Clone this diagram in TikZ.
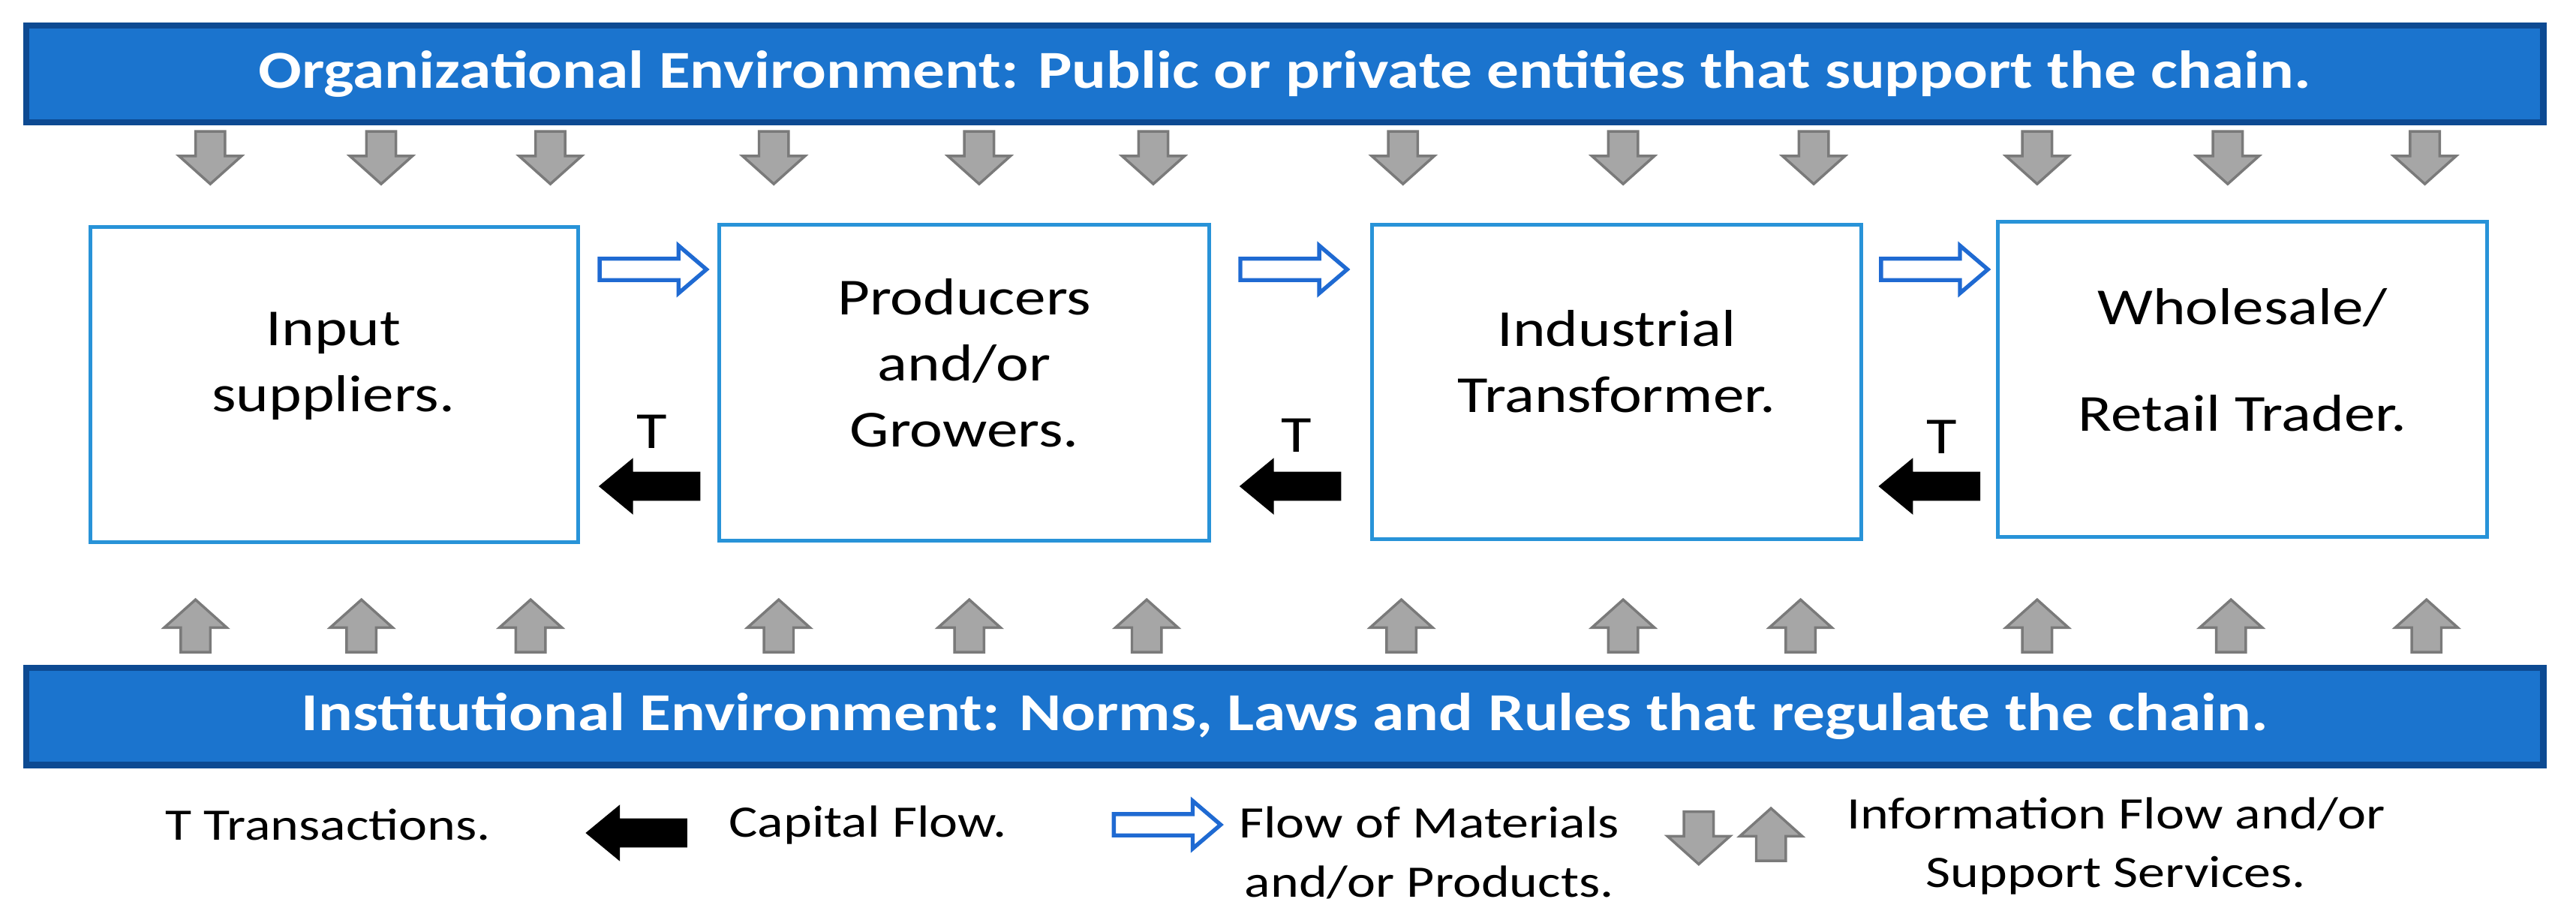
\documentclass[tikz,border=0pt]{standalone}
\usepackage{fontspec}
\setmainfont{Carlito}[FakeStretch=1.2]
\definecolor{bannerblue}{HTML}{1B74CE}
\definecolor{bannerline}{HTML}{0D4A92}
\definecolor{boxblue}{HTML}{2893D8}
\definecolor{flowblue}{HTML}{1F6AD2}
\definecolor{grayfill}{HTML}{A6A6A6}
\definecolor{grayline}{HTML}{7A7A7A}
\begin{document}
\begin{tikzpicture}[x=0.1mm,y=-0.1mm,
  bannerbox/.style={draw=bannerline, line width=0.4mm, fill=bannerblue, text=white,
    font=\fontsize{9.25}{11}\selectfont\bfseries, minimum width=153.2mm, minimum height=5.9mm, inner sep=0pt},
  chainbox/.style={draw=boxblue, line width=0.65pt, fill=white, inner sep=0pt},
  boxtext/.style={align=center, inner sep=0pt, font=\fontsize{9}{11.4}\selectfont},
  tlabel/.style={inner sep=0pt, font=\fontsize{9}{11}\selectfont},
  legtext/.style={inner sep=0pt, align=center, font=\fontsize{7.8}{10.2}\selectfont},
  grayarrow/.style={fill=grayfill, draw=grayline, line width=0.45pt, line join=miter},
  matarrow/.style={fill=white, draw=flowblue, line width=0.7pt, line join=miter},
  caparrow/.style={fill=black, draw=black, line width=0.2pt, line join=miter},
  pics/gdown/.style={code={\draw[grayarrow] (-9,0) -- (9,0) -- (9,15) -- (19,15) -- (0,32) -- (-19,15) -- (-9,15) -- cycle;}},
  pics/gup/.style={code={\draw[grayarrow] (-9,0) -- (9,0) -- (9,-15) -- (19,-15) -- (0,-32) -- (-19,-15) -- (-9,-15) -- cycle;}},
  pics/matflow/.style={code={\draw[matarrow] (0,-6.5) -- (48,-6.5) -- (48,-14.5) -- (65,0) -- (48,14.5) -- (48,6.5) -- (0,6.5) -- cycle;}},
  pics/capflow/.style={code={\draw[caparrow] (0,0) -- (20,-16.5) -- (20,-8.5) -- (61,-8.5) -- (61,8.5) -- (20,8.5) -- (20,16.5) -- cycle;}}
]
\useasboundingbox (0,0) rectangle (1568,558);

% banners
\node[bannerbox] (org) at (782,45) {Organizational Environment: Public or private entities that support the chain.};
\node[bannerbox] (inst) at (782,436) {Institutional Environment: Norms, Laws and Rules that regulate the chain.};

% chain boxes
\node[chainbox, minimum width=29.7mm, minimum height=19.2mm] (b1) at (203.5,234) {};
\node[chainbox, minimum width=29.8mm, minimum height=19.2mm] (b2) at (587,233) {};
\node[chainbox, minimum width=29.8mm, minimum height=19.1mm] (b3) at (984,232.5) {};
\node[chainbox, minimum width=29.8mm, minimum height=19.2mm] (b4) at (1365,231) {};

\node[boxtext] (t1) at (203,223) {Input\\suppliers.};
\node[boxtext] (t2) at (587,221) {Producers\\and/or\\Growers.};
\node[boxtext] (t3) at (984,220) {Industrial\\Transformer.};
\node[boxtext, font=\fontsize{9}{18.5}\selectfont] (t4) at (1365,219) {Wholesale/\\Retail Trader.};

% material flow arrows
\pic at (365,164) {matflow};
\pic at (755,164) {matflow};
\pic at (1145,164) {matflow};

% capital flow arrows with transactions
\pic at (365,296) {capflow};
\pic at (755,296) {capflow};
\pic at (1144,296) {capflow};
\node[tlabel] (T1) at (397,263) {T};
\node[tlabel] (T2) at (789,265) {T};
\node[tlabel] (T3) at (1182,266) {T};

% information flow arrows (down from organizational environment)
\foreach \x in {128,232,335,471,596,702,854,988,1104,1240,1356,1476}
  \pic at (\x,80) {gdown};
% information flow arrows (up from institutional environment)
\foreach \x in {119,220,323,474,590,698,853,988,1096,1240,1358,1477}
  \pic at (\x,397) {gup};

% legend
\node[legtext, anchor=west] (lT) at (100,502) {T Transactions.};
\pic at (357,507) {capflow};
\node[legtext, anchor=west] (lcap) at (443,502) {Capital Flow.};
\pic at (678,502) {matflow};
\node[legtext] (lmat) at (870,519) {Flow of Materials\\and/or Products.};
\pic at (1034,494) {gdown};
\pic at (1078,524) {gup};
\node[legtext] (linfo) at (1288,515) {Information Flow and/or\\Support Services.};
\end{tikzpicture}
\end{document}
